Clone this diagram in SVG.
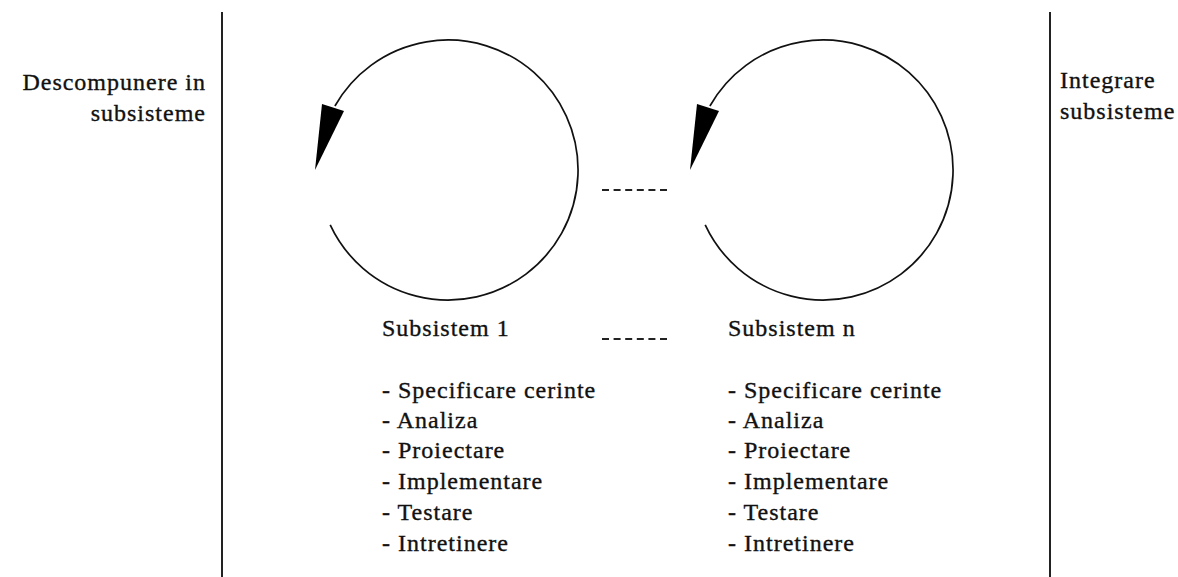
<svg xmlns="http://www.w3.org/2000/svg" width="1178" height="577" viewBox="0 0 1178 577">
  <style>
    text { font-family: 'Liberation Serif', 'DejaVu Serif', serif; font-size: 24px; letter-spacing: 1px; fill: #111; stroke: #111; stroke-width: 0.35; }
    .sep { stroke: #222; stroke-width: 2; fill: none; }
    .cyc { stroke: #111; stroke-width: 1.7; fill: none; }
    .head { fill: #000; stroke: none; }
    .dots { stroke: #222; stroke-width: 2; stroke-dasharray: 7 4.6; fill: none; }
  </style>
  <rect width="1178" height="577" fill="#fff"/>

  <g id="connectors">
    <line class="sep" x1="222" y1="12" x2="222" y2="577"/>
    <line class="sep" x1="1050" y1="12" x2="1050" y2="577"/>
    <line class="dots" x1="602" y1="190" x2="667" y2="190"/>
    <line class="dots" x1="602" y1="339" x2="667" y2="339"/>
  </g>

  <g id="decompose">
    <text x="206" y="90" text-anchor="end">Descompunere in</text>
    <text x="206" y="121" text-anchor="end">subsisteme</text>
  </g>

  <g id="integrate">
    <text x="1060" y="88">Integrare</text>
    <text x="1060" y="119">subsisteme</text>
  </g>

  <g id="subsystem-1">
    <path class="cyc" d="M330.2,224.9 A130,130 0 1 0 334.9,106"/>
    <polygon class="head" points="322,104 344,111 315,170"/>
    <text x="382" y="336">Subsistem 1</text>
    <text x="382" y="398">- Specificare cerinte</text>
    <text x="382" y="428">- Analiza</text>
    <text x="382" y="458">- Proiectare</text>
    <text x="382" y="489">- Implementare</text>
    <text x="382" y="520">- Testare</text>
    <text x="382" y="551">- Intretinere</text>
  </g>

  <g id="subsystem-n">
    <path class="cyc" d="M705.2,224.9 A130,130 0 1 0 709.9,106"/>
    <polygon class="head" points="697,104 719,111 690,170"/>
    <text x="728" y="336">Subsistem n</text>
    <text x="728" y="398">- Specificare cerinte</text>
    <text x="728" y="428">- Analiza</text>
    <text x="728" y="458">- Proiectare</text>
    <text x="728" y="489">- Implementare</text>
    <text x="728" y="520">- Testare</text>
    <text x="728" y="551">- Intretinere</text>
  </g>
</svg>
